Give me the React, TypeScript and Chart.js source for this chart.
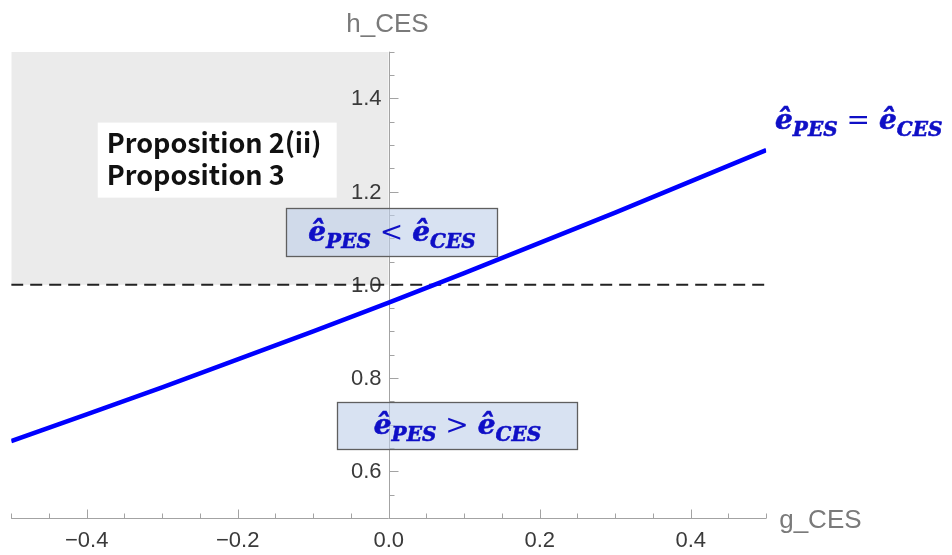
import React, { useEffect, useRef } from 'react';
import { Chart, registerables } from 'chart.js';

Chart.register(...registerables);

// ---- data ----
const gValues = [-0.5, -0.4, -0.3, -0.2, -0.1, 0, 0.1, 0.2, 0.3, 0.4, 0.5];
const hValues = [0.665, 0.722, 0.78, 0.84, 0.9, 0.962, 1.025, 1.09, 1.155, 1.222, 1.289];
const thresholdH = 1.0;
const shadeG = [-0.5, 0];
const shadeTopH = 1.5;

const X_MIN = -0.5;
const X_MAX = 0.5;
const Y_MIN = 0.5;
const Y_MAX = 1.5;

const xMajorTicks = [-0.4, -0.2, 0, 0.2, 0.4];
const xTickLabels = ['−0.4', '−0.2', '0.0', '0.2', '0.4'];
const xMinorTicks = [-0.5, -0.45, -0.35, -0.3, -0.25, -0.15, -0.1, -0.05, 0.05, 0.1, 0.15, 0.25, 0.3, 0.35, 0.45, 0.5];
const yMajorTicks = [0.6, 0.8, 1.0, 1.2, 1.4];
const yTickLabels = ['0.6', '0.8', '1.0', '1.2', '1.4'];
const yMinorTicks = [0.55, 0.65, 0.7, 0.75, 0.85, 0.9, 0.95, 1.05, 1.1, 1.15, 1.25, 1.3, 1.35, 1.45, 1.5];

const xTitle = 'g_CES';
const yTitle = 'h_CES';
const propLines = ['Proposition 2(ii)', 'Proposition 3'];
const hatE = 'ê';
const subP = 'PES';
const subC = 'CES';
const relLess = '<';
const relMore = '>';
const relEq = '=';

// ---- styles ----
const AXIS_COLOR = '#a3a3a3';
const TICK_LABEL_COLOR = '#3a3a3a';
const TITLE_COLOR = '#7a7a7a';
const MATH_COLOR = '#0f0fc6';

function drawMath(ctx: CanvasRenderingContext2D, cx: number, baseline: number, rel: string, align: 'center' | 'left') {
  const big = 'bold italic 28px "DejaVu Serif"';
  const sub = 'bold italic 20px "DejaVu Serif"';
  const op = '28px "DejaVu Serif"';
  const parts: any[] = [
    { t: hatE, f: big, dy: 0 },
    { t: subP, f: sub, dy: 7 },
    { gap: 9 },
    { t: rel, f: op, dy: 0 },
    { gap: 9 },
    { t: hatE, f: big, dy: 0 },
    { t: subC, f: sub, dy: 7 },
  ];
  let total = 0;
  for (const p of parts) {
    if (p.gap) { p.w = p.gap; } else { ctx.font = p.f; p.w = ctx.measureText(p.t).width; }
    total += p.w;
  }
  let x = align === 'center' ? cx - total / 2 : cx;
  ctx.fillStyle = MATH_COLOR;
  ctx.strokeStyle = MATH_COLOR;
  ctx.lineWidth = 0.6;
  ctx.textAlign = 'left';
  ctx.textBaseline = 'alphabetic';
  for (const p of parts) {
    if (!p.gap) {
      ctx.font = p.f;
      ctx.fillText(p.t, x, baseline + p.dy);
      if (p.f !== op) ctx.strokeText(p.t, x, baseline + p.dy);
    }
    x += p.w;
  }
}

const axesPlugin = {
  id: 'customAxes',
  beforeDatasetsDraw(chart: any) {
    const { ctx } = chart;
    const x = chart.scales.x;
    const y = chart.scales.y;
    const ax = Math.round(x.getPixelForValue(0)) + 0.5;
    const ay = Math.round(y.getPixelForValue(Y_MIN)) + 0.5;
    ctx.save();
    ctx.strokeStyle = AXIS_COLOR;
    ctx.lineWidth = 1;
    ctx.beginPath();
    ctx.moveTo(x.getPixelForValue(X_MIN), ay);
    ctx.lineTo(x.getPixelForValue(X_MAX), ay);
    ctx.moveTo(ax, y.getPixelForValue(Y_MIN));
    ctx.lineTo(ax, y.getPixelForValue(Y_MAX));
    xMajorTicks.forEach((v) => {
      const px = Math.round(x.getPixelForValue(v)) + 0.5;
      ctx.moveTo(px, ay); ctx.lineTo(px, ay - 9);
    });
    xMinorTicks.forEach((v) => {
      const px = Math.round(x.getPixelForValue(v)) + 0.5;
      ctx.moveTo(px, ay); ctx.lineTo(px, ay - 5);
    });
    yMajorTicks.forEach((v) => {
      const py = Math.round(y.getPixelForValue(v)) + 0.5;
      ctx.moveTo(ax, py); ctx.lineTo(ax + 9, py);
    });
    yMinorTicks.forEach((v) => {
      const py = Math.round(y.getPixelForValue(v)) + 0.5;
      ctx.moveTo(ax, py); ctx.lineTo(ax + 5, py);
    });
    ctx.stroke();

    ctx.fillStyle = TICK_LABEL_COLOR;
    ctx.font = '22px "Liberation Sans"';
    ctx.textAlign = 'center';
    ctx.textBaseline = 'alphabetic';
    xMajorTicks.forEach((v, i) => {
      ctx.fillText(xTickLabels[i], x.getPixelForValue(v), ay + 28);
    });
    ctx.textAlign = 'right';
    ctx.textBaseline = 'middle';
    yMajorTicks.forEach((v, i) => {
      ctx.fillText(yTickLabels[i], ax - 8, y.getPixelForValue(v) + 1);
    });

    ctx.fillStyle = TITLE_COLOR;
    ctx.font = '26px "Liberation Sans"';
    ctx.textBaseline = 'alphabetic';
    ctx.textAlign = 'center';
    ctx.fillText(yTitle, ax - 2, y.getPixelForValue(Y_MAX) - 20);
    ctx.textAlign = 'left';
    ctx.fillText(xTitle, x.getPixelForValue(X_MAX) + 13, ay + 9);
    ctx.restore();
  },
};

const annotationPlugin = {
  id: 'annotations',
  afterDatasetsDraw(chart: any) {
    const { ctx } = chart;
    const x = chart.scales.x;
    const y = chart.scales.y;
    ctx.save();

    // Proposition box
    const px1 = x.getPixelForValue(-0.3854);
    const px2 = x.getPixelForValue(-0.0689);
    const py1 = y.getPixelForValue(1.348);
    const py2 = y.getPixelForValue(1.187);
    ctx.fillStyle = '#ffffff';
    ctx.fillRect(px1, py1, px2 - px1, py2 - py1);
    ctx.fillStyle = '#111111';
    ctx.font = 'bold 27px "Noto Sans CJK JP"';
    ctx.textAlign = 'left';
    ctx.textBaseline = 'alphabetic';
    ctx.fillText(propLines[0], px1 + 9, py1 + 30);
    ctx.fillText(propLines[1], px1 + 9, py1 + 62);

    const box = (g1: number, h1: number, g2: number, h2: number, rel: string) => {
      const bx1 = Math.round(x.getPixelForValue(g1)) + 0.5;
      const bx2 = Math.round(x.getPixelForValue(g2)) + 0.5;
      const by1 = Math.round(y.getPixelForValue(h1)) + 0.5;
      const by2 = Math.round(y.getPixelForValue(h2)) + 0.5;
      ctx.fillStyle = 'rgba(190,207,234,0.6)';
      ctx.fillRect(bx1, by1, bx2 - bx1, by2 - by1);
      ctx.strokeStyle = '#5f5f5f';
      ctx.lineWidth = 1.3;
      ctx.strokeRect(bx1, by1, bx2 - bx1, by2 - by1);
      drawMath(ctx, (bx1 + bx2) / 2, (by1 + by2) / 2 + 8, rel, 'center');
    };
    box(-0.1364, 1.164, 0.1438, 1.0615, relLess);
    box(-0.0689, 0.749, 0.249, 0.647, relMore);

    drawMath(ctx, x.getPixelForValue(0.5117), y.getPixelForValue(1.335), relEq, 'left');
    ctx.restore();
  },
};

export default function App() {
  const ref = useRef<HTMLCanvasElement | null>(null);
  useEffect(() => {
    if (!ref.current) return;
    const lineData = gValues.map((g, i) => ({ x: g, y: hValues[i] }));
    const dashData = [{ x: X_MIN, y: thresholdH }, { x: X_MAX, y: thresholdH }];
    const shadeData = shadeG.map((g) => ({ x: g, y: shadeTopH }));
    const chart = new Chart(ref.current, {
      type: 'line',
      data: {
        datasets: [
          {
            data: lineData,
            borderColor: '#0000ff',
            borderWidth: 4.5,
            pointRadius: 0,
            fill: false,
            tension: 0,
          },
          {
            data: dashData,
            borderColor: '#222222',
            borderWidth: 2,
            borderDash: [12, 7],
            pointRadius: 0,
            fill: false,
          },
          {
            data: shadeData,
            borderWidth: 0,
            borderColor: 'rgba(0,0,0,0)',
            backgroundColor: '#ebebeb',
            pointRadius: 0,
            fill: { value: thresholdH },
          },
        ],
      } as any,
      options: {
        animation: false,
        responsive: true,
        maintainAspectRatio: false,
        events: [],
        layout: { padding: { left: 3.2, right: 177.8, top: 43.7, bottom: 29 } },
        plugins: {
          legend: { display: false },
          tooltip: { enabled: false },
          filler: { drawTime: 'beforeDraw' },
        } as any,
        scales: {
          x: { type: 'linear', min: X_MIN, max: X_MAX, display: false },
          y: { type: 'linear', min: Y_MIN, max: Y_MAX, display: false },
        },
      },
      plugins: [axesPlugin, annotationPlugin],
    });
    return () => chart.destroy();
  }, []);
  return (
    <div style={{ position: 'relative', width: 936, height: 539 }}>
      <canvas ref={ref} />
    </div>
  );
}
